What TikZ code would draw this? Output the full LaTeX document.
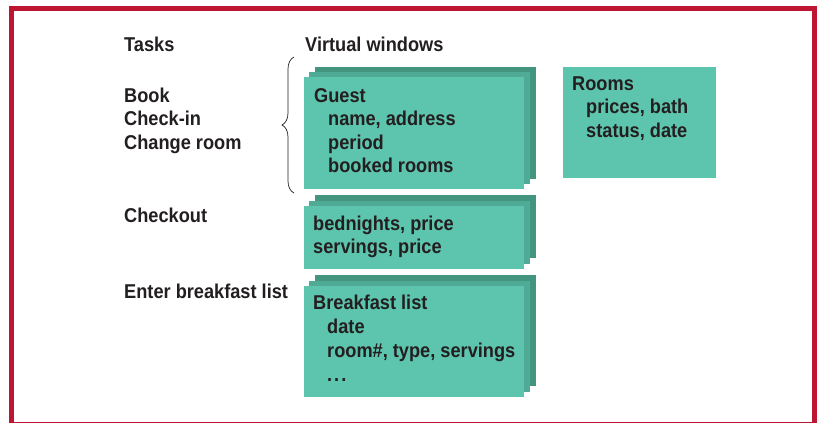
\documentclass[tikz,border=0pt]{standalone}
\usepackage{fontspec}
\newfontfamily\labfont[FakeStretch=0.91]{Liberation Sans}
\usetikzlibrary{decorations.pathreplacing}
\definecolor{frame}{RGB}{190,22,50}
\definecolor{ink}{RGB}{35,31,32}
\definecolor{tfront}{RGB}{93,196,173}
\definecolor{tmid}{RGB}{79,171,149}
\definecolor{tback}{RGB}{67,149,127}
\tikzset{
  lab/.style={font=\labfont\bfseries\fontsize{20}{23}\selectfont, text=ink, inner sep=0pt, anchor=base west},
  front/.style={fill=tfront, draw=none},
  mid/.style={fill=tmid, draw=none},
  back/.style={fill=tback, draw=none},
}
\begin{document}
\begin{tikzpicture}[x=1pt,y=-1pt]
\useasboundingbox (0,0) rectangle (820,423);
\fill[white] (0,0) rectangle (820,423);
% frame
\draw[frame, line width=5pt] (11.5,8.5) rectangle (814.5,424.2);

% headers
\node[lab] (tasks) at (124,51) {Tasks};
\node[lab] (vw) at (305,51) {Virtual windows};

% tasks
\node[lab] (book) at (124,102) {Book};
\node[lab] (checkin) at (124,125.5) {Check-in};
\node[lab] (change) at (124,149) {Change room};
\node[lab] (checkout) at (124,222) {Checkout};
\node[lab] (enter) at (124,298) {Enter breakfast list};

% brace
\coordinate (braceb) at (294,193);
\coordinate (bracet) at (294,57);
\draw[ink, line width=0.7pt, decorate, decoration={brace, amplitude=12pt}] (braceb) -- (bracet);

% Guest stack
\fill[back] (315,67) rectangle (536,179);
\fill[mid] (309,72) rectangle (530,184);
\fill[front] (303.5,77) rectangle (524,189);
\node[lab] (guest) at (314,102) {Guest};
\node[lab] (name) at (328,125.5) {name, address};
\node[lab] (period) at (328,149) {period};
\node[lab] (booked) at (328,172.5) {booked rooms};

% Rooms
\fill[front] (563,67) rectangle (716,178);
\node[lab] (rooms) at (572,90) {Rooms};
\node[lab] (prices) at (586,113.5) {prices, bath};
\node[lab] (status) at (586,137) {status, date};

% bednights stack
\fill[back] (315,195) rectangle (536,258);
\fill[mid] (309,200.5) rectangle (530,263.5);
\fill[front] (303.5,206) rectangle (524,269);
\node[lab] (bed) at (313,230) {bednights, price};
\node[lab] (serv) at (313,253.5) {servings, price};

% breakfast stack
\fill[back] (315,275) rectangle (536,386);
\fill[mid] (309,280.5) rectangle (530,391.5);
\fill[front] (303.5,286) rectangle (524,397);
\node[lab] (bl) at (313,309) {Breakfast list};
\node[lab] (date) at (327,333) {date};
\node[lab] (room) at (327,357) {room\#, type, servings};
\node[lab] (dots) at (327,381) {.\kern2pt.\kern2pt.};
\end{tikzpicture}
\end{document}
